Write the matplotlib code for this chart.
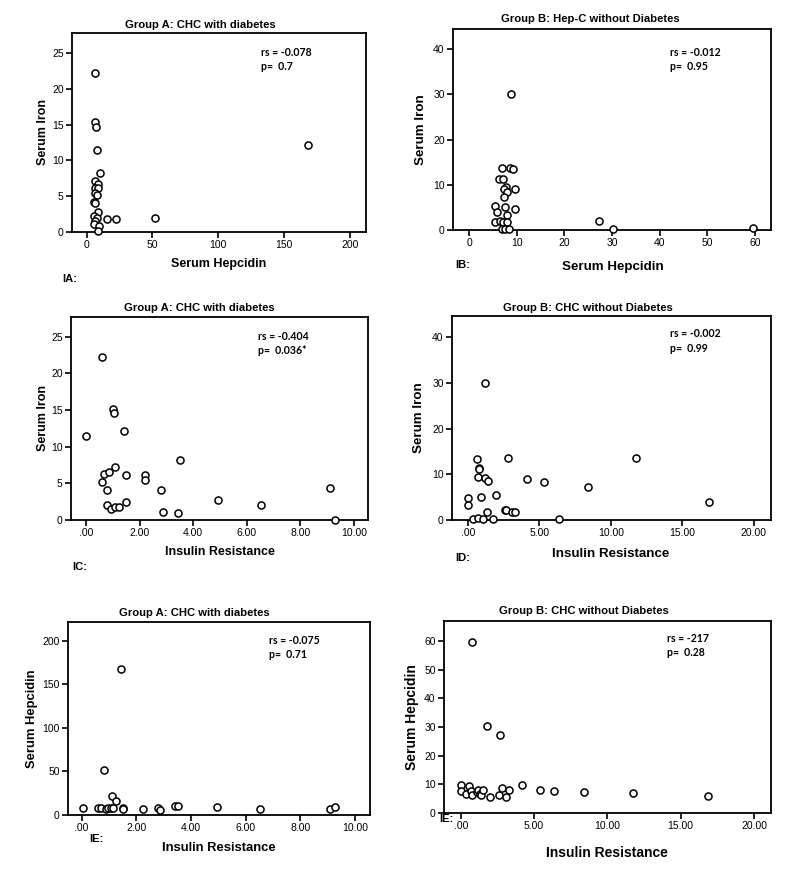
import matplotlib
matplotlib.use("Agg")
import matplotlib.pyplot as plt

# ---- data ----
# IA: Group A, serum hepcidin vs serum iron
ia_hepcidin = [6.8, 6.8, 7.3, 7.8, 10.1, 6.6, 8.8, 6.3, 8.6, 6.8, 8.1, 5.8, 6.8, 8.8,
               5.8, 7.8, 6.3, 5.6, 9.6, 8.8, 15.9, 22, 52, 168]
ia_iron = [22.2, 15.3, 14.7, 11.5, 8.2, 7.1, 6.7, 6.2, 6.1, 5.5, 5.2, 4.2, 4.1, 2.8,
           2.2, 1.9, 1.6, 1.1, 0.9, 0.2, 1.8, 1.8, 1.95, 12.2]

# IB: Group B, serum hepcidin vs serum iron
ib_hepcidin = [8.8, 6.85, 8.6, 9.2, 6.2, 7.1, 7.8, 7.3, 7.9, 9.7, 7.3, 5.5, 7.5, 9.6,
               5.8, 7.9, 5.45, 6.4, 7.2, 8.0, 6.85, 7.6, 8.4, 27.2, 30.2, 59.7]
ib_iron = [30.0, 13.65, 13.65, 13.4, 11.3, 11.4, 9.6, 9.1, 8.5, 9.0, 7.2, 5.4, 5.0, 4.65,
           3.9, 3.3, 1.85, 2.1, 1.85, 1.85, 0.15, 0.15, 0.15, 2.1, 0.15, 0.5]

# IC: Group A, insulin resistance vs serum iron
ic_ir = [0.0, 0.61, 0.66, 0.61, 0.85, 0.80, 0.78, 0.93, 1.08, 1.23, 1.02, 1.03, 1.09,
         1.42, 1.49, 1.49, 2.2, 2.2, 2.79, 2.86, 3.42, 3.51, 4.94, 6.52, 9.09, 9.29]
ic_iron = [11.45, 22.2, 6.27, 5.14, 6.6, 4.1, 2.0, 1.55, 1.77, 1.77, 15.2, 14.6, 7.2,
           12.2, 6.2, 2.5, 6.1, 5.5, 4.1, 1.1, 0.9, 8.2, 2.7, 2.1, 4.3, 0.0]

# ID: Group B, insulin resistance vs serum iron
id_ir = [1.19, 0.63, 2.79, 0.77, 0.77, 0.70, 1.23, 1.44, 4.14, 5.36, 8.38, 11.76, 16.9,
         0.0, 0.0, 0.93, 1.96, 1.37, 2.63, 2.68, 3.1, 3.28, 0.35, 0.72, 1.05, 1.75, 6.36]
id_iron = [30.1, 13.4, 13.65, 11.5, 11.2, 9.5, 9.1, 8.5, 9.0, 8.25, 7.2, 13.65, 3.9,
           4.75, 3.2, 5.0, 5.4, 1.8, 2.1, 2.1, 1.8, 1.8, 0.15, 0.35, 0.15, 0.15, 0.15]

# IE: Group A, insulin resistance vs serum hepcidin
ie_ir = [0.05, 0.61, 0.70, 0.83, 0.89, 0.97, 1.06, 1.13, 1.11, 1.24, 1.44, 1.52, 1.52,
         2.23, 2.78, 2.87, 3.43, 3.51, 4.95, 6.51, 9.09, 9.28]
ie_hepcidin = [8.0, 8.0, 8.0, 52, 6.5, 8.0, 8.0, 8.0, 22, 16.4, 168, 8.0, 7.0,
               7.0, 7.6, 6.0, 10.5, 10.5, 8.8, 6.9, 6.5, 8.8]

# IF: Group B, insulin resistance vs serum hepcidin
if_ir = [0.75, 1.77, 2.68, 0.02, 0.02, 0.34, 0.57, 0.70, 0.79, 1.09, 1.20, 1.30, 1.40,
         1.50, 1.98, 2.64, 2.84, 3.09, 3.30, 4.18, 5.41, 6.36, 8.41, 11.75, 16.89]
if_hepcidin = [59.7, 30.4, 27.2, 9.6, 7.6, 6.6, 9.3, 7.7, 6.3, 7.4, 8.2, 6.8, 6.3,
               8.1, 5.6, 6.4, 8.7, 5.6, 8.1, 9.85, 7.9, 7.65, 7.3, 6.95, 5.8]

titles = ["Group A: CHC with diabetes", "Group B: Hep-C without Diabetes",
          "Group A: CHC with diabetes", "Group B: CHC without Diabetes",
          "Group A: CHC with diabetes", "Group B: CHC without Diabetes"]
stats = [("rs = -0.078", "p=  0.7"), ("rs = -0.012", "p=  0.95"),
         ("rs = -0.404", "p=  0.036*"), ("rs = -0.002", "p=  0.99"),
         ("rs = -0.075", "p=  0.71"), ("rs = -217", "p=  0.28")]
panel_tags = ["IA:", "IB:", "IC:", "ID:", "IE:", "IE:"]

W, H = 800, 881
sans = ["Liberation Sans", "DejaVu Sans"]


def px(x, y):
    return x / W, 1 - y / H


fig = plt.figure(figsize=(8, 8.81), dpi=100)

# layout of each panel: axes box in pixels (left, top, right, bottom) and text spots
panels = [
    dict(x=ia_hepcidin, y=ia_iron, box=(72, 33, 366, 232), xlim=(-11, 212), ylim=(0, 27.8),
         xticks=[0, 50, 100, 150, 200], xlabels=["0", "50", "100", "150", "200"],
         yticks=[0, 5, 10, 15, 20, 25], xname="Serum Hepcidin", yname="Serum Iron",
         title=(200, 25), stat=(261, 52), xl=(219, 264), yl=(43, 132), tag=(62, 279), fs=9.0),
    dict(x=ib_hepcidin, y=ib_iron, box=(453, 29, 771, 230), xlim=(-3.4, 63.4), ylim=(0, 44.5),
         xticks=[0, 10, 20, 30, 40, 50, 60], xlabels=["0", "10", "20", "30", "40", "50", "60"],
         yticks=[0, 10, 20, 30, 40], xname="Serum Hepcidin", yname="Serum Iron",
         title=(590, 19), stat=(670, 52), xl=(613, 267), yl=(421, 130), tag=(455, 265), fs=9.6),
    dict(x=ic_ir, y=ic_iron, box=(71, 317, 368, 520), xlim=(-0.56, 10.52), ylim=(0, 27.7),
         xticks=[0, 2, 4, 6, 8, 10], xlabels=[".00", "2.00", "4.00", "6.00", "8.00", "10.00"],
         yticks=[0, 5, 10, 15, 20, 25], xname="Insulin Resistance", yname="Serum Iron",
         title=(199, 308), stat=(258, 336), xl=(220, 552), yl=(43, 418), tag=(72, 567), fs=9.0),
    dict(x=id_ir, y=id_iron, box=(452, 316, 771, 520), xlim=(-1.1, 21.2), ylim=(0, 44.7),
         xticks=[0, 5, 10, 15, 20], xlabels=[".00", "5.00", "10.00", "15.00", "20.00"],
         yticks=[0, 10, 20, 30, 40], xname="Insulin Resistance", yname="Serum Iron",
         title=(588, 308), stat=(670, 334), xl=(611, 554), yl=(419, 418), tag=(455, 558), fs=9.6),
    dict(x=ie_ir, y=ie_hepcidin, box=(68, 622, 370, 815), xlim=(-0.5, 10.55), ylim=(0, 221.8),
         xticks=[0, 2, 4, 6, 8, 10], xlabels=[".00", "2.00", "4.00", "6.00", "8.00", "10.00"],
         yticks=[0, 50, 100, 150, 200], xname="Insulin Resistance", yname="Serum Hepcidin",
         title=(194, 613), stat=(269, 640), xl=(219, 848), yl=(32, 719), tag=(89, 839), fs=9.4),
    dict(x=if_ir, y=if_hepcidin, box=(444, 621, 771, 813), xlim=(-1.14, 21.16), ylim=(0, 67),
         xticks=[0, 5, 10, 15, 20], xlabels=[".00", "5.00", "10.00", "15.00", "20.00"],
         yticks=[0, 10, 20, 30, 40, 50, 60], xname="Insulin Resistance", yname="Serum Hepcidin",
         title=(584, 611), stat=(667, 638), xl=(607, 853), yl=(412, 717), tag=(453, 819), fs=10.0),
]

for i, p in enumerate(panels):
    l, t, r, b = p["box"]
    ax = fig.add_axes([l / W, 1 - b / H, (r - l) / W, (b - t) / H])
    ax.scatter(p["x"], p["y"], s=26, facecolors="white", edgecolors="black",
               linewidths=1.1, clip_on=False, zorder=3)
    ax.set_xlim(*p["xlim"])
    ax.set_ylim(*p["ylim"])
    ax.set_xticks(p["xticks"])
    ax.set_xticklabels(p["xlabels"])
    ax.set_yticks(p["yticks"])
    for s in ax.spines.values():
        s.set_linewidth(1.3)
    ax.tick_params(direction="out", length=4, width=1.2, labelsize=7.5, pad=2)
    for lab in ax.get_xticklabels() + ax.get_yticklabels():
        lab.set_family(sans)

    fig.text(*px(*p["title"]), titles[i], ha="center", va="center",
             fontsize=8.1, fontweight="bold", family=sans)
    sx, sy = p["stat"]
    fig.text(*px(sx, sy), stats[i][0], ha="left", va="center",
             fontsize=7.6, fontweight="bold", family="Lato")
    fig.text(*px(sx, sy + 15), stats[i][1], ha="left", va="center",
             fontsize=7.6, fontweight="bold", family="Lato")
    fig.text(*px(*p["xl"]), p["xname"], ha="center", va="center",
             fontsize=p["fs"], fontweight="bold", family=sans)
    fig.text(*px(*p["yl"]), p["yname"], ha="center", va="center", rotation=90,
             fontsize=p["fs"], fontweight="bold", family=sans)
    fig.text(*px(*p["tag"]), panel_tags[i], ha="right" if i == 5 else "left", va="center",
             fontsize=8, fontweight="bold", family=sans)

fig.savefig("out.png", dpi=100, facecolor="white")
